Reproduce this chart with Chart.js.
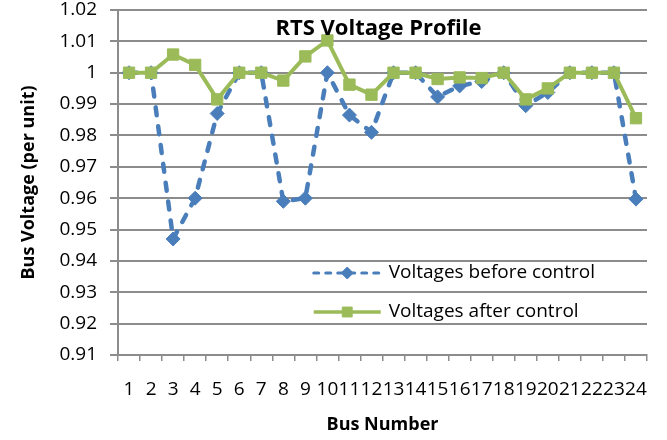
<!DOCTYPE html>
<html>
<head>
<meta charset="utf-8">
<script src="https://cdn.jsdelivr.net/npm/chart.js@4/dist/chart.umd.min.js"></script>
<style>
html,body{margin:0;padding:0;background:#fff;}
#wrap{width:667px;height:440px;position:relative;}
</style>
</head>
<body>
<div id="wrap"><canvas id="c" width="667" height="440"></canvas></div>
<script>
const busNumbers = ['1','2','3','4','5','6','7','8','9','10','11','12','13','14','15','16','17','18','19','20','21','22','23','24'];
const voltagesBefore = [1.000,1.000,0.947,0.960,0.987,1.000,1.000,0.959,0.960,1.000,0.9865,0.981,1.000,1.000,0.9923,0.9958,0.9972,1.000,0.9895,0.9937,1.000,1.000,1.000,0.9597];
const voltagesAfter  = [1.000,1.000,1.0058,1.0025,0.9915,1.000,1.000,0.9975,1.0052,1.0103,0.9962,0.9930,1.000,1.000,0.9980,0.9985,0.9983,1.000,0.9915,0.9950,1.000,1.000,1.000,0.9855];
const yTickLabels = ['0.91','0.92','0.93','0.94','0.95','0.96','0.97','0.98','0.99','1','1.01','1.02'];
const chartTitle = 'RTS Voltage Profile';
const seriesNames = ['Voltages before control','Voltages after control'];

const FONT = '"Open Sans", Lato, sans-serif';
const BLUE = '#4A7EBB';
const GREEN = '#9BBB59';
const GRID = '#8c8c8c';

const overlay = {
  id: 'overlay',
  afterDraw(chart) {
    const ctx = chart.ctx;
    const a = chart.chartArea;
    ctx.save();
    // title
    ctx.fillStyle = '#000';
    ctx.font = 'bold 22px ' + FONT;
    ctx.textAlign = 'center';
    ctx.textBaseline = 'middle';
    ctx.fillText(chartTitle, (a.left + a.right) / 2 - 4, a.top + 19);
    // legend
    const x0 = a.left + (a.right - a.left) * 0.37;
    const x1 = x0 + 67;
    const ys = [a.top + 263, a.top + 302];
    chart.data.datasets.forEach((ds, i) => {
      const y = ys[i];
      ctx.save();
      ctx.strokeStyle = ds.borderColor;
      ctx.lineWidth = i === 0 ? 3 : 3.5;
      ctx.lineCap = ds.borderCapStyle || 'butt';
      ctx.setLineDash(i === 0 ? [5, 7] : []);
      ctx.beginPath();
      ctx.moveTo(x0, y);
      ctx.lineTo(x1, y);
      ctx.stroke();
      ctx.restore();
      ctx.save();
      ctx.fillStyle = ds.backgroundColor;
      ctx.strokeStyle = ds.backgroundColor;
      ctx.lineWidth = 1;
      ctx.setLineDash([]);
      Chart.helpers.drawPoint(ctx, {pointStyle: ds.pointStyle, radius: ds.pointRadius - 1, borderWidth: 1, rotation: 0}, (x0 + x1) / 2, y);
      ctx.restore();
      ctx.fillStyle = '#000';
      ctx.font = '19px ' + FONT;
      ctx.textAlign = 'left';
      ctx.textBaseline = 'middle';
      ctx.fillText(ds.label, x1 + 8, y);
    });
    ctx.restore();
  }
};

new Chart(document.getElementById('c'), {
  type: 'line',
  data: {
    labels: busNumbers,
    datasets: [
      {
        label: seriesNames[0],
        data: voltagesBefore,
        borderColor: BLUE,
        backgroundColor: BLUE,
        borderWidth: 4.5,
        borderDash: [8, 11],
        borderCapStyle: 'round',
        pointStyle: 'rectRot',
        pointRadius: 7,
        pointHoverRadius: 7,
        pointBorderWidth: 1,
        tension: 0,
        order: 1
      },
      {
        label: seriesNames[1],
        data: voltagesAfter,
        borderColor: GREEN,
        backgroundColor: GREEN,
        borderWidth: 4,
        pointStyle: 'rect',
        pointRadius: 8,
        pointHoverRadius: 8,
        pointBorderWidth: 1,
        tension: 0,
        order: 0
      }
    ]
  },
  options: {
    responsive: false,
    animation: false,
    layout: { padding: { top: 10, right: 20, left: 0, bottom: 0 } },
    plugins: {
      legend: { display: false },
      title: { display: false },
      tooltip: { enabled: false }
    },
    scales: {
      x: {
        type: 'category',
        offset: true,
        afterFit(s) { s.height = 85; s.paddingLeft = 0; s.paddingRight = 0; },
        grid: { offset: true, drawOnChartArea: false, drawTicks: true, tickLength: 6, color: GRID, lineWidth: 1.5 },
        border: { color: GRID, width: 2 },
        ticks: { color: '#000', font: { family: FONT, size: 19 }, padding: 17, maxRotation: 0, autoSkip: false },
        title: { display: true, text: 'Bus Number', color: '#000', font: { family: FONT, size: 18, weight: 'bold' }, padding: { top: 0, bottom: 4 } }
      },
      y: {
        min: 0.91,
        max: 1.02,
        afterFit(s) { s.width = 118; s.paddingTop = 0; s.paddingBottom = 0; },
        afterBuildTicks(s) { s.ticks = yTickLabels.map(t => ({ value: parseFloat(t) })); },
        grid: { color: GRID, lineWidth: 2, drawTicks: true, tickLength: 8 },
        border: { color: GRID, width: 2 },
        ticks: {
          color: '#000', font: { family: FONT, size: 19 }, padding: 13,
          callback(v) { const i = yTickLabels.findIndex(t => Math.abs(parseFloat(t) - v) < 1e-6); return i >= 0 ? yTickLabels[i] : ''; }
        },
        title: { display: true, text: 'Bus Voltage (per unit)', color: '#000', font: { family: FONT, size: 18, weight: 'bold' }, padding: { top: 18, bottom: 0 } }
      }
    }
  },
  plugins: [overlay]
});
</script>
</body>
</html>
